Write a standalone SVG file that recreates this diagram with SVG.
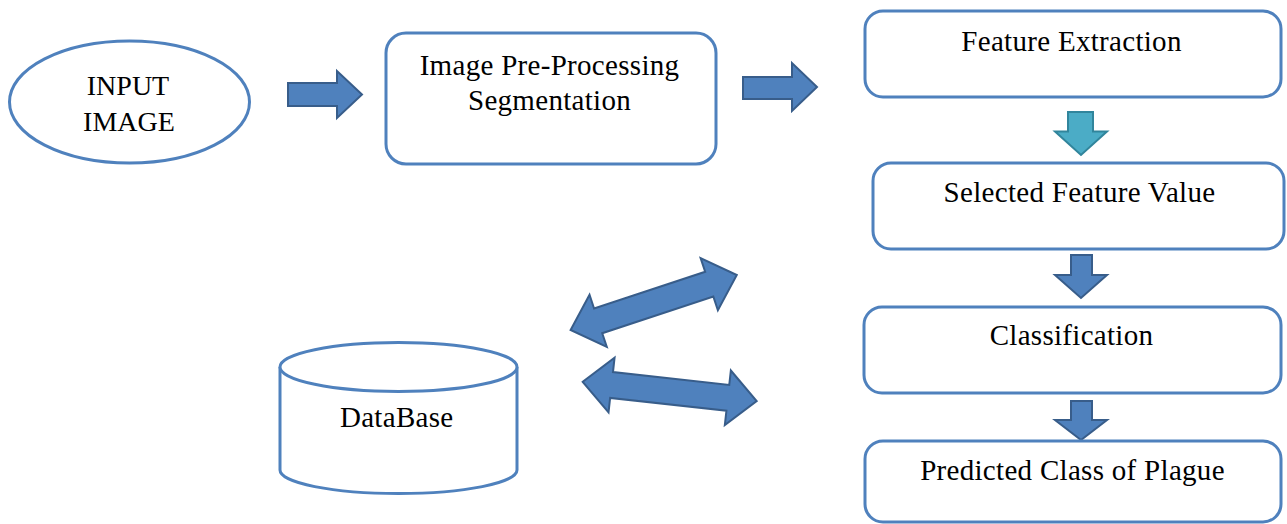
<svg xmlns="http://www.w3.org/2000/svg" width="1287" height="524" viewBox="0 0 1287 524">
<style>
.box{fill:#fff;stroke:#4F81BD;stroke-width:3}
.lbl{font-family:"Liberation Serif","Times New Roman",serif;font-size:29px;letter-spacing:0.3px;fill:#000;text-anchor:middle}
.big{font-size:28px;letter-spacing:0}
.arr{fill:#4F81BD;stroke:#385D8A;stroke-width:2;stroke-linejoin:miter}
.cyan{fill:#4BACC6;stroke:#31859C;stroke-width:2}
</style>
<rect width="1287" height="524" fill="#fff"/>
<g id="connectors">
<path class="arr" d="M288,83 H337 V71 L362,94.5 L337,118 V106 H288 Z"/>
<path class="arr" d="M743,77 H792 V63 L817,87 L792,111 V99 H743 Z"/>
<path class="cyan" d="M1068,112 H1093 V131.5 H1107 L1081,155 L1055,131.5 H1068 Z"/>
<path class="arr" d="M1071,255 H1092 V275 H1107 L1081,298 L1055,275 H1071 Z"/>
<path class="arr" d="M1071,401 H1092 V420 H1107 L1081,440 L1055,420 H1071 Z"/>
<path class="arr" transform="translate(653.7,302.5) rotate(-18.3)" d="M-87.5,0 L-58.5,-27.5 L-58.5,-13 L58.5,-13 L58.5,-27.5 L87.5,0 L58.5,27.5 L58.5,13 L-58.5,13 L-58.5,27.5 Z"/>
<path class="arr" transform="translate(669.7,391.4) rotate(6.3)" d="M-87.5,0 L-58.5,-27.5 L-58.5,-13 L58.5,-13 L58.5,-27.5 L87.5,0 L58.5,27.5 L58.5,13 L-58.5,13 L-58.5,27.5 Z"/>
</g>
<g id="input-image">
<ellipse class="box" cx="129.5" cy="102" rx="120" ry="61"/>
<text class="lbl big" x="128" y="95">INPUT</text>
<text class="lbl big" x="129" y="131">IMAGE</text>
</g>
<g id="preprocessing">
<rect class="box" x="386" y="33" width="330" height="131" rx="20"/>
<text class="lbl" x="549.5" y="75">Image Pre-Processing</text>
<text class="lbl" x="549.5" y="110">Segmentation</text>
</g>
<g id="feature-extraction">
<rect class="box" x="865" y="11" width="416" height="86" rx="18"/>
<text class="lbl" x="1071.5" y="51">Feature Extraction</text>
</g>
<g id="selected-feature">
<rect class="box" x="873" y="163" width="411" height="86" rx="18"/>
<text class="lbl" x="1079.5" y="202">Selected Feature Value</text>
</g>
<g id="classification">
<rect class="box" x="864" y="307" width="417" height="86" rx="18"/>
<text class="lbl" x="1071.5" y="345">Classification</text>
</g>
<g id="predicted">
<rect class="box" x="865" y="441" width="416" height="81" rx="18"/>
<text class="lbl" x="1072.5" y="480">Predicted Class of Plague</text>
</g>
<g id="database">
<path class="box" d="M280,367 V470 A118.5,23.5 0 0 0 517,470 V367"/>
<ellipse class="box" cx="398.5" cy="367" rx="118.5" ry="24.5"/>
<text class="lbl" x="396.7" y="427">DataBase</text>
</g>
</svg>
